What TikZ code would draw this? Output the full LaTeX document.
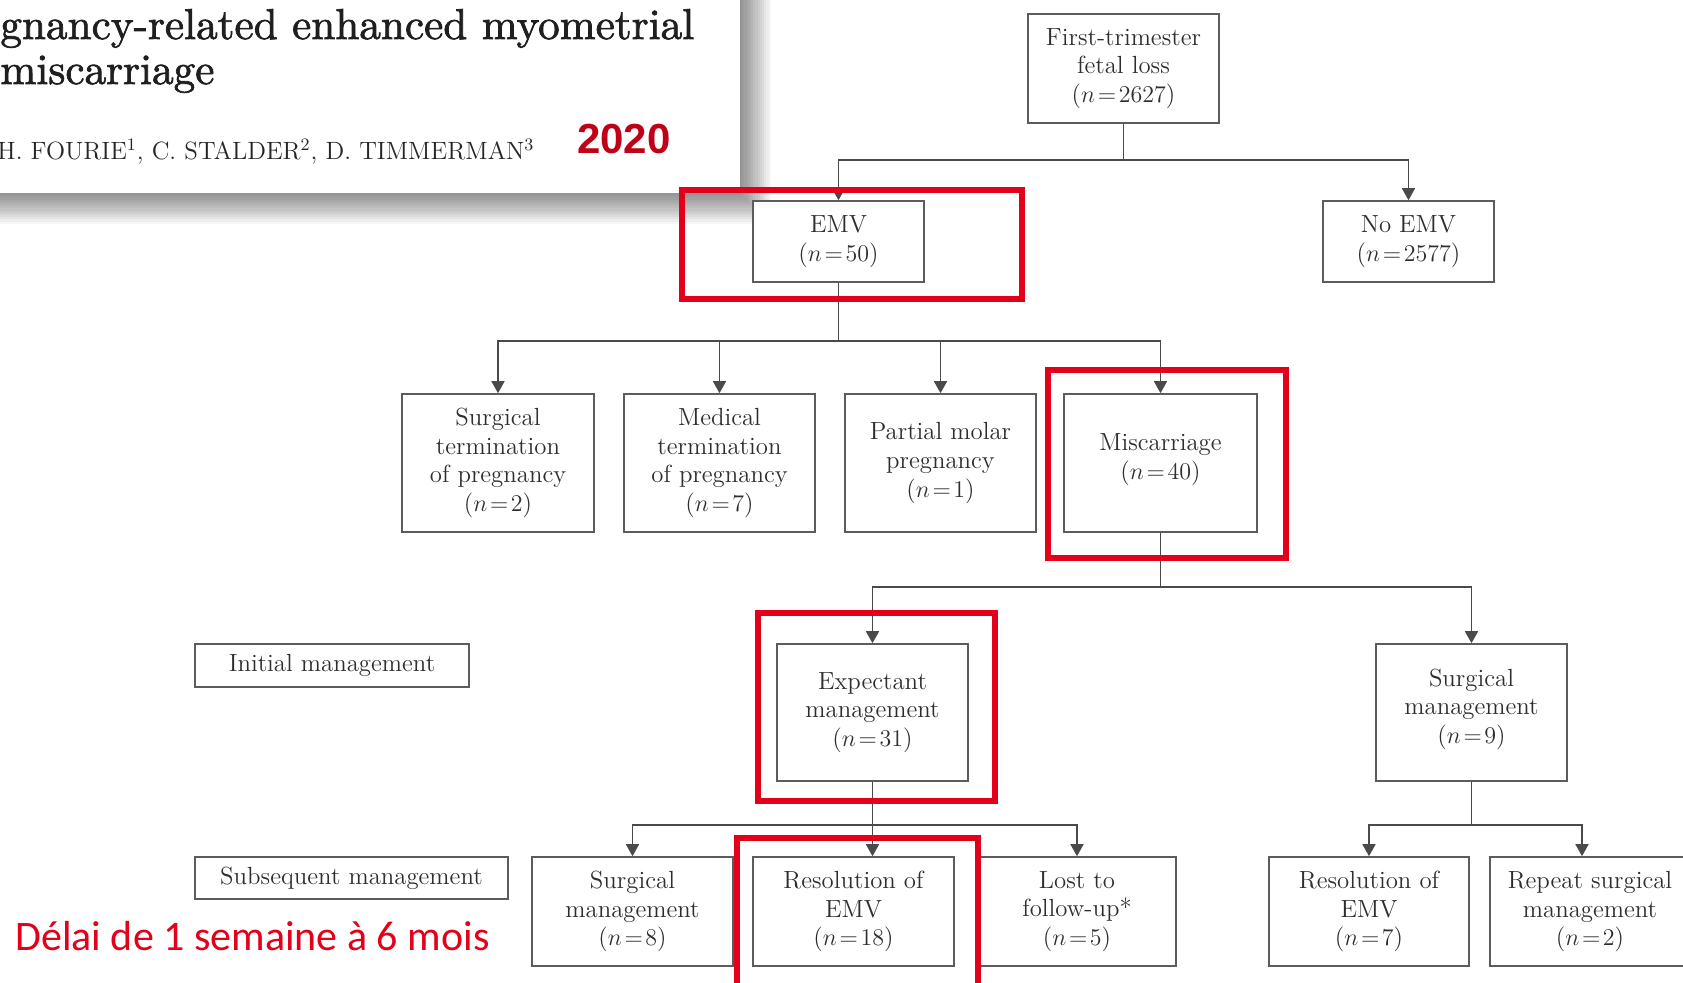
\documentclass[tikz,border=0pt]{standalone}
\usepackage{fontspec}
\newfontfamily\titlefont[FakeBold=1.6]{lmroman10-regular.otf}
\newfontfamily\yearfont{Liberation Sans}
\newfontfamily\notefont{Carlito}
\usetikzlibrary{arrows.meta}

\definecolor{linegray}{HTML}{4A4A4A}
\definecolor{boxgray}{HTML}{5C5C5C}
\definecolor{markred}{HTML}{E2001A}
\definecolor{yearred}{HTML}{C00018}
\newcommand{\ncount}[1]{($n\mkern2mu{=}\mkern2mu#1$)}

\tikzset{>={Triangle[length=6pt,width=6.5pt]}}
\tikzset{
	box/.style={draw=boxgray,line width=0.8pt,fill=white,align=center,inner sep=0pt,
		text=black!82,font=\fontsize{12.4}{14.3}\selectfont},
	link/.style={draw=linegray,line width=0.8pt},
	marker/.style={draw=markred,line width=2.8pt},
}

\begin{document}
\begin{tikzpicture}[x=0.5pt,y=-0.5pt]
	\useasboundingbox (0,0) rectangle (1683,982);
	\fill[white] (0,0) rectangle (1683,982);

	% paper panel with its shadow
	\foreach \s in {1,...,14}
		\fill[black,opacity=0.035] (-10,-10) rectangle (740+2.2*\s,193+2.2*\s);
	\fill[white] (-10,-10) rectangle (740,193);

	\node[anchor=base west,inner sep=0pt,text=black!88,font=\titlefont\fontsize{21.6}{24}\selectfont]
		(title-a) at (0,39) {gnancy-related enhanced myometrial};
	\node[anchor=base west,inner sep=0pt,text=black!88,font=\titlefont\fontsize{21.6}{24}\selectfont]
		(title-b) at (0,84) {miscarriage};
	\node[anchor=base west,inner sep=0pt,text=black!85,font=\fontsize{12.5}{14}\selectfont]
		(authors) at (-3,159) {H. FOURIE\textsuperscript{1}, C. STALDER\textsuperscript{2}, D. TIMMERMAN\textsuperscript{3}};
	\node[anchor=base,inner sep=0pt,text=yearred,font=\yearfont\bfseries\fontsize{21}{24}\selectfont]
		(year) at (624,153) {2020};

	% flow chart
	\node[box,minimum width=95.5pt,minimum height=54.5pt] (loss) at (1123.5,68.5) {First-trimester\\fetal loss\\\ncount{2627}};
	\node[box,minimum width=85.5pt,minimum height=40.5pt] (emv) at (838.5,241.5) {EMV\\\ncount{50}};
	\node[box,minimum width=85.5pt,minimum height=40.5pt] (no-emv) at (1408.5,241.5) {No EMV\\\ncount{2577}};

	\node[box,minimum width=96pt,minimum height=69pt] (stop) at (498,463) {Surgical\\termination\\of pregnancy\\\ncount{2}};
	\node[box,minimum width=95.5pt,minimum height=69pt] (mtop) at (719.5,463) {Medical\\termination\\of pregnancy\\\ncount{7}};
	\node[box,minimum width=95.5pt,minimum height=69pt] (molar) at (940.5,463) {Partial molar\\pregnancy\\\ncount{1}};
	\node[box,minimum width=96.5pt,minimum height=69pt] (misc) at (1160.5,463) {Miscarriage\\\ncount{40}\\[-8pt]\mbox{}};

	\node[box,minimum width=137pt,minimum height=21.5pt] (init-label) at (332,665.5) {Initial management};
	\node[box,minimum width=95.5pt,minimum height=68.5pt] (expect) at (872.5,712.5) {Expectant\\management\\\ncount{31}};
	\node[box,minimum width=95.5pt,minimum height=68.5pt] (surg-init) at (1471.5,712.5) {Surgical\\management\\\ncount{9}\\[-8pt]\mbox{}};

	\node[box,minimum width=156.5pt,minimum height=21pt] (sub-label) at (351.5,878) {Subsequent management};
	\node[box,minimum width=100.5pt,minimum height=54.5pt] (surg-sub) at (632.5,911.5) {Surgical\\management\\\ncount{8}};
	\node[box,minimum width=100.5pt,minimum height=54.5pt] (resol) at (853.5,911.5) {Resolution of\\EMV\\\ncount{18}};
	\node[box,minimum width=99pt,minimum height=54.5pt] (lost) at (1077,911.5) {Lost to\\follow-up*\\\ncount{5}};
	\node[box,minimum width=100pt,minimum height=54.5pt] (resol-b) at (1369,911.5) {Resolution of\\EMV\\\ncount{7}};
	\node[box,minimum width=100pt,minimum height=54.5pt] (repeat) at (1590,911.5) {Repeat surgical\\management\\\ncount{2}};

	\node[anchor=base west,inner sep=0pt,text=markred,font=\notefont\fontsize{21}{24}\selectfont]
		(delay) at (15,950) {Délai de 1 semaine à 6 mois};

	\draw[link] (loss.south) -- ++(0,36) coordinate (split-loss);
	\draw[link,->] (split-loss) -| (emv.north);
	\draw[link,->] (split-loss) -| (no-emv.north);

	\draw[link] (emv.south) -- ++(0,58) coordinate (split-emv);
	\foreach \t in {stop,mtop,molar,misc}
		\draw[link,->] (split-emv) -| (\t.north);

	\draw[link] (misc.south) -- ++(0,54) coordinate (split-misc);
	\draw[link,->] (split-misc) -| (expect.north);
	\draw[link,->] (split-misc) -| (surg-init.north);

	\draw[link] (expect.south) -- ++(0,43) coordinate (split-exp);
	\draw[link,->] (split-exp) -| (surg-sub.north);
	\draw[link,->] (split-exp) -- (split-exp |- resol.north);
	\draw[link,->] (split-exp) -| (lost.north);

	\draw[link] (surg-init.south) -- ++(0,43) coordinate (split-surg);
	\draw[link,->] (split-surg) -| (resol-b.north);
	\draw[link,->] (split-surg) -| ([xshift=-4pt]repeat.north);

	% red highlights
	\draw[marker] ([shift={(-70,-10)}]emv.north west) rectangle ([shift={(97,16)}]emv.south east);
	\draw[marker] ([shift={(-15,-23)}]misc.north west) rectangle ([shift={(28,25)}]misc.south east);
	\draw[marker] ([shift={(-18,-30)}]expect.north west) rectangle ([shift={(26,19)}]expect.south east);
	\draw[marker] ([shift={(-15,-18)}]resol.north west) rectangle ([shift={(23,24)}]resol.south east);
\end{tikzpicture}
\end{document}
